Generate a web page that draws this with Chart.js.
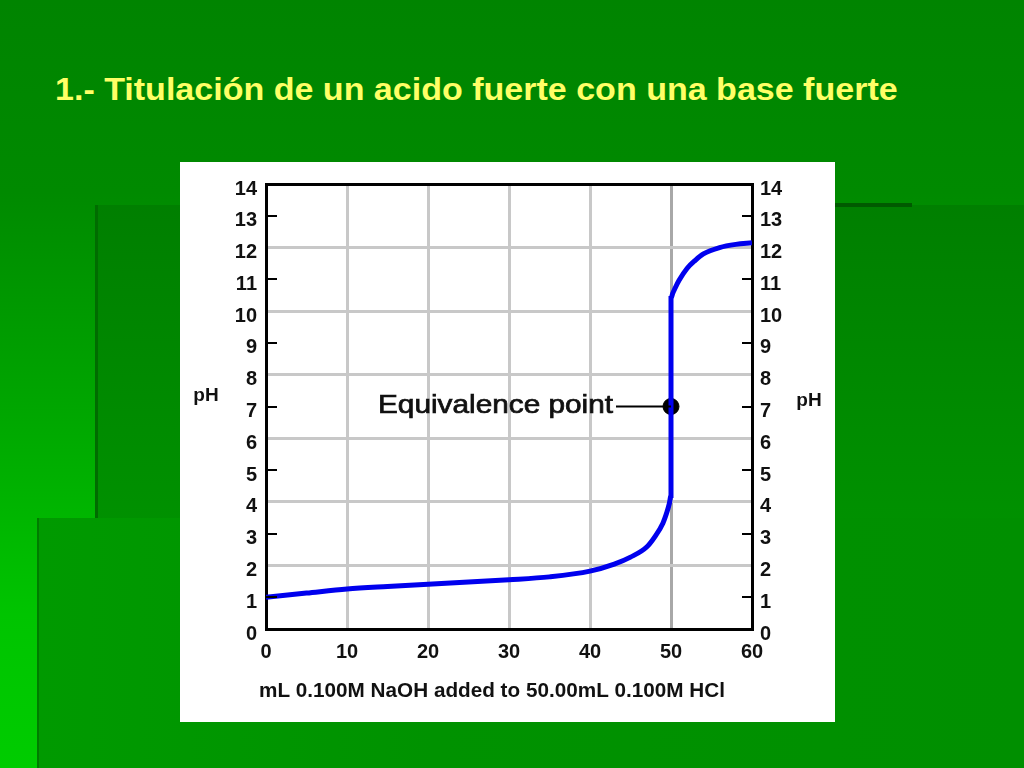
<!DOCTYPE html>
<html>
<head>
<meta charset="utf-8">
<script src="https://cdn.jsdelivr.net/npm/chart.js"></script>
<style>
    body { margin: 0; width: 1024px; height: 768px; overflow: hidden; position: relative; font-family: "Liberation Sans", Arial, sans-serif; }
    .fondo { position: absolute; left: 0; top: 0; width: 1024px; height: 768px;
        background: linear-gradient(to bottom, #008400 0%, #008a00 25%, #00a800 55%, #00c400 80%, #00cc00 100%); }
    .bloque1 { position: absolute; left: 95px; top: 205px; right: 0; bottom: 0;
        background: linear-gradient(to bottom, #007f00 0%, #008c00 40%, #009e00 100%);
        border-left: 3px solid #006c00; }
    .bloque2 { position: absolute; left: 37px; top: 518px; right: 0; bottom: 0;
        background: linear-gradient(to right, #009a00 0%, #009200 40%, #008f00 100%);
        border-left: 2px solid #007c00; }
    .raya { position: absolute; left: 820px; top: 203px; width: 92px; height: 4px; background: #005a00; }
    .titulo { position: absolute; left: 55px; top: 74px; font-size: 31px; line-height: 31px; font-weight: bold;
        color: #ffff66; white-space: nowrap; transform-origin: left top; }
    .caja { position: absolute; left: 180px; top: 162px; width: 655px; height: 560px; background: #ffffff; }
    canvas { display: block; }
</style>
</head>
<body>
<div class="fondo"></div>
<div class="bloque1"></div>
<div class="bloque2"></div>
<div class="raya"></div>
<div class="titulo" id="titulo">1.- Titulación de un acido fuerte con una base fuerte</div>
<div class="caja"><canvas id="grafica" width="655" height="560"></canvas></div>
<script>
// datos
const volumenNaOH = [0, 5, 10, 15, 20, 25, 30, 35, 40, 43, 45, 47, 48, 49, 49.5, 49.8, 50, 50, 50, 50.2, 50.5, 51, 52, 53, 54, 56, 58, 60];
const valoresPH = [1.0, 1.13, 1.26, 1.34, 1.41, 1.48, 1.55, 1.64, 1.82, 2.04, 2.26, 2.58, 2.9, 3.33, 3.68, 3.95, 4.2, 7.0, 10.4, 10.55, 10.72, 10.97, 11.35, 11.6, 11.8, 12.0, 12.1, 12.15];
const puntoEquivalencia = [50, 7];
const ticksVolumen = [0, 10, 20, 30, 40, 50, 60];
const ticksPH = [0, 1, 2, 3, 4, 5, 6, 7, 8, 9, 10, 11, 12, 13, 14];
const textoEje = "mL 0.100M NaOH added to 50.00mL 0.100M HCl";
const textoPunto = "Equivalence point";

// ajustar el titulo al ancho de la diapositiva
let titulo = document.getElementById("titulo");
titulo.style.transform = "scaleX(" + (843 / titulo.scrollWidth) + ")";

const fuente = { family: '"Liberation Sans", Arial, sans-serif', size: 20, weight: 'bold' };
const gris = '#c8c8c8';

function ejeFijo(ancho) {
    return function (s) { s.width = ancho; };
}

// texto estirado a un ancho dado
function textoAncho(ctx, texto, x, y, ancho, grosor) {
    let w = ctx.measureText(texto).width;
    ctx.save();
    ctx.translate(x, y);
    ctx.scale(ancho / w, 1);
    ctx.fillText(texto, 0, 0);
    if (grosor) {
        ctx.lineWidth = grosor;
        ctx.strokeStyle = ctx.fillStyle;
        ctx.strokeText(texto, 0, 0);
    }
    ctx.restore();
}

const extras = {
    id: 'extras',
    afterDraw(chart) {
        let ctx = chart.ctx;
        let area = chart.chartArea;
        let x = chart.scales.x, y = chart.scales.y;

        // marcas cortas hacia dentro en los valores impares
        ctx.save();
        ctx.strokeStyle = '#000';
        ctx.lineWidth = 2;
        ticksPH.filter(v => v % 2 === 1).forEach(v => {
            let py = Math.round(y.getPixelForValue(v));
            ctx.beginPath();
            ctx.moveTo(area.left, py); ctx.lineTo(area.left + 11, py);
            ctx.moveTo(area.right - 10, py); ctx.lineTo(area.right, py);
            ctx.stroke();
        });

        // pH a los dos lados
        ctx.fillStyle = '#111';
        ctx.font = 'bold 19px "Liberation Sans", Arial, sans-serif';
        ctx.textAlign = 'center';
        ctx.textBaseline = 'middle';
        let medio = (area.top + area.bottom) / 2;
        ctx.fillText('pH', area.left - 60, medio - 11);
        ctx.fillText('pH', area.right + 57, medio - 6);

        // titulo del eje x
        ctx.textAlign = 'left';
        ctx.textBaseline = 'alphabetic';
        ctx.font = 'bold 20px "Liberation Sans", Arial, sans-serif';
        textoAncho(ctx, textoEje, area.left - 7, area.bottom + 68, 466);

        // punto de equivalencia
        let px = x.getPixelForValue(puntoEquivalencia[0]);
        let py = y.getPixelForValue(puntoEquivalencia[1]);
        ctx.lineWidth = 2;
        ctx.beginPath();
        ctx.moveTo(px - 55, py); ctx.lineTo(px, py);
        ctx.stroke();
        ctx.font = '25px "Liberation Sans", Arial, sans-serif';
        textoAncho(ctx, textoPunto, px - 293, py + 6, 235, 0.7);
        ctx.restore();
    }
};

new Chart(document.getElementById('grafica'), {
    type: 'line',
    data: {
        datasets: [{
            data: volumenNaOH.map((v, i) => ({ x: v, y: valoresPH[i] })),
            borderColor: '#0000ee',
            borderWidth: 5,
            pointRadius: 0,
            cubicInterpolationMode: 'monotone',
            fill: false
        }, {
            data: [{ x: puntoEquivalencia[0], y: puntoEquivalencia[1] }],
            showLine: false,
            pointRadius: 8,
            pointBackgroundColor: '#000',
            pointBorderColor: '#000'
        }]
    },
    options: {
        responsive: false,
        animation: false,
        layout: { padding: { top: 22, left: 0, right: 0, bottom: 0 } },
        plugins: { legend: { display: false }, tooltip: { enabled: false } },
        scales: {
            x: {
                type: 'linear', position: 'bottom', min: 0, max: 60,
                afterBuildTicks: s => { s.ticks = ticksVolumen.map(v => ({ value: v })); },
                afterFit: s => { s.height = 93; },
                grid: {
                    drawTicks: false, lineWidth: 3,
                    color: c => (c.tick.value === 0 || c.tick.value === 60) ? 'rgba(0,0,0,0)' : (c.tick.value === 50 ? '#a8a8a8' : gris)
                },
                border: { color: '#000', width: 3 },
                ticks: { color: '#111', font: fuente, padding: 11, maxRotation: 0 }
            },
            xArriba: {
                type: 'linear', position: 'top', min: 0, max: 60,
                afterFit: s => { s.height = 0; },
                grid: { display: false },
                ticks: { display: false },
                border: { color: '#000', width: 3 }
            },
            y: {
                type: 'linear', position: 'left', min: 0, max: 14,
                afterBuildTicks: s => { s.ticks = ticksPH.map(v => ({ value: v })); },
                afterFit: ejeFijo(86),
                grid: {
                    drawTicks: false, lineWidth: 3,
                    color: c => (c.tick.value % 2 === 0 && c.tick.value !== 0 && c.tick.value !== 14) ? gris : 'rgba(0,0,0,0)'
                },
                border: { color: '#000', width: 3 },
                ticks: { color: '#111', font: fuente, padding: 9, autoSkip: false, labelOffset: 5 }
            },
            yDerecha: {
                type: 'linear', position: 'right', min: 0, max: 14,
                afterBuildTicks: s => { s.ticks = ticksPH.map(v => ({ value: v })); },
                afterFit: ejeFijo(83),
                grid: { drawOnChartArea: false, drawTicks: false },
                border: { color: '#000', width: 3 },
                ticks: { color: '#111', font: fuente, padding: 8, autoSkip: false, labelOffset: 5 }
            }
        }
    },
    plugins: [extras]
});
</script>
</body>
</html>
